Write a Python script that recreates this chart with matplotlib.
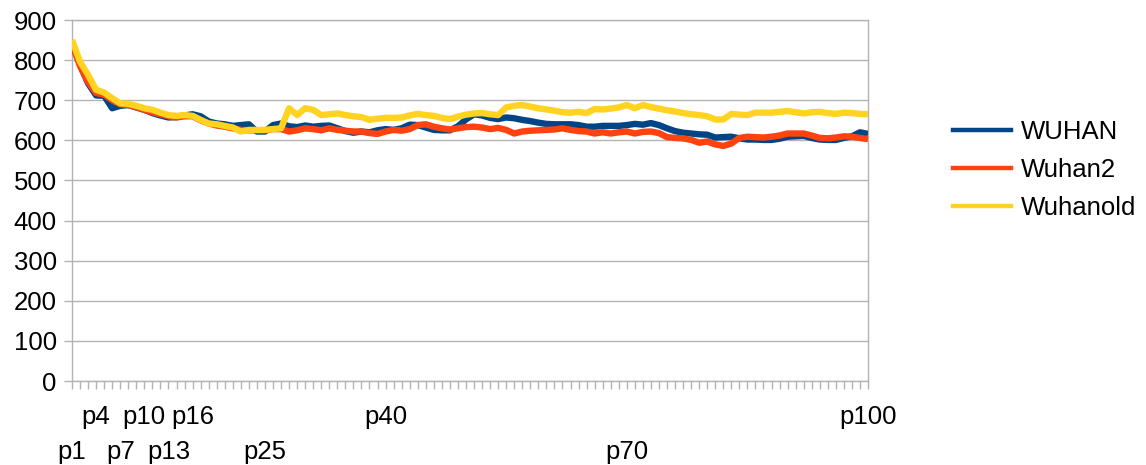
import matplotlib
matplotlib.use("Agg")
import matplotlib.pyplot as plt
from matplotlib.lines import Line2D
import matplotlib.transforms as mtransforms

plt.rcParams['font.family'] = ['Liberation Sans', 'DejaVu Sans']

categories = [f"p{i}" for i in range(1, 101)]

wuhan = [
    842, 788, 742, 712, 711, 680, 686, 688, 682, 676,
    668, 662, 657, 658, 662, 665, 660, 647, 642, 640,
    636, 638, 640, 622, 622, 638, 642, 635, 633, 637,
    634, 636, 637, 630, 623, 619, 622, 620, 625, 628,
    626, 630, 639, 638, 632, 626, 625, 625, 635, 652,
    665, 662, 656, 653, 657, 655, 651, 648, 644, 641,
    640, 640, 640, 638, 634, 634, 636, 636, 636, 638,
    641, 639, 643, 638, 630, 623, 619, 617, 615, 614,
    607, 608, 609, 605, 602, 602, 601, 601, 604, 609,
    610, 611, 606, 602, 601, 601, 606, 610, 620, 616,
]

wuhan2 = [
    840, 785, 745, 718, 714, 700, 690, 688, 683, 676,
    670, 665, 660, 657, 660, 660, 650, 642, 637, 634,
    630, 626, 625, 625, 625, 628, 628, 622, 625, 630,
    628, 625, 630, 626, 624, 622, 622, 618, 616, 622,
    626, 624, 628, 638, 640, 634, 630, 627, 630, 633,
    634, 632, 628, 631, 626, 617, 622, 624, 625, 626,
    627, 630, 626, 623, 622, 617, 620, 617, 620, 622,
    617, 621, 622, 618, 608, 606, 605, 601, 594, 597,
    590, 586, 592, 606, 609, 608, 607, 609, 612, 617,
    617, 617, 612, 606, 605, 607, 610, 609, 606, 603,
]

wuhanold = [
    850, 796, 763, 726, 719, 705, 692, 691, 686, 680,
    676, 669, 663, 661, 663, 661, 651, 642, 640, 636,
    632, 622, 626, 626, 626, 628, 630, 680, 663, 680,
    676, 663, 665, 667, 663, 660, 658, 651, 654, 656,
    656, 657, 662, 666, 663, 661, 656, 653, 659, 664,
    667, 668, 665, 663, 682, 686, 688, 684, 680, 677,
    674, 670, 669, 671, 668, 678, 677, 679, 682, 688,
    680, 688, 683, 679, 675, 672, 668, 665, 663, 660,
    652, 652, 666, 664, 663, 669, 669, 669, 671, 673,
    670, 667, 670, 671, 668, 666, 669, 668, 666, 665,
]

series_names = ["WUHAN", "Wuhan2", "Wuhanold"]
series_colors = ["#004586", "#ff420e", "#ffd320"]

# labels shown on the category axis: upper row and lower row
upper_labels = ["p4", "p10", "p16", "p40", "p100"]
lower_labels = ["p1", "p7", "p13", "p25", "p70"]

y_ticks = list(range(0, 901, 100))

FS = 18.5
W, H = 1146, 465
fig = plt.figure(figsize=(W / 100, H / 100), dpi=100)
ax = fig.add_axes([72 / W, 1 - 381 / H, 796 / W, 361 / H])

x = list(range(len(categories)))
for vals, name, col in zip([wuhan, wuhan2, wuhanold], series_names, series_colors):
    ax.plot(x, vals, color=col, lw=4.6, solid_joinstyle='round',
            solid_capstyle='butt', label=name, zorder=3)

grid_col = "#b3b3b3"
ax.set_xlim(0, len(categories) - 1)
ax.set_ylim(0, 900)
ax.set_yticks(y_ticks)
ax.yaxis.grid(True, color=grid_col, lw=1.0)
ax.set_axisbelow(True)
for s in ax.spines.values():
    s.set_color(grid_col)
    s.set_linewidth(1.0)

ax.tick_params(axis='y', direction='out', length=6, width=1, color=grid_col,
               labelsize=FS, pad=5)

# one small tick per category, labels only on selected ones
ax.set_xticks(x, minor=True)
label_names = upper_labels + lower_labels
label_pos = [categories.index(n) for n in label_names]
ax.set_xticks(label_pos)
ax.set_xticklabels(label_names)
ax.tick_params(axis='x', which='both', direction='out', length=6, width=1,
               color=grid_col, labelsize=FS, pad=11.5)
lower_shift = mtransforms.ScaledTranslation(0, -35 / 100, fig.dpi_scale_trans)
for lab in ax.get_xticklabels():
    if lab.get_text() in lower_labels:
        lab.set_transform(lab.get_transform() + lower_shift)

handles = [Line2D([], [], color=c, lw=3.2) for c in series_colors]
fig.legend(handles, series_names, loc='upper left',
           bbox_to_anchor=(953 / W, 1 - 120 / H), frameon=False,
           fontsize=FS, handlelength=2.25, handletextpad=0.4,
           labelspacing=0.54, borderpad=0, borderaxespad=0)

fig.savefig("out.png", dpi=100)
